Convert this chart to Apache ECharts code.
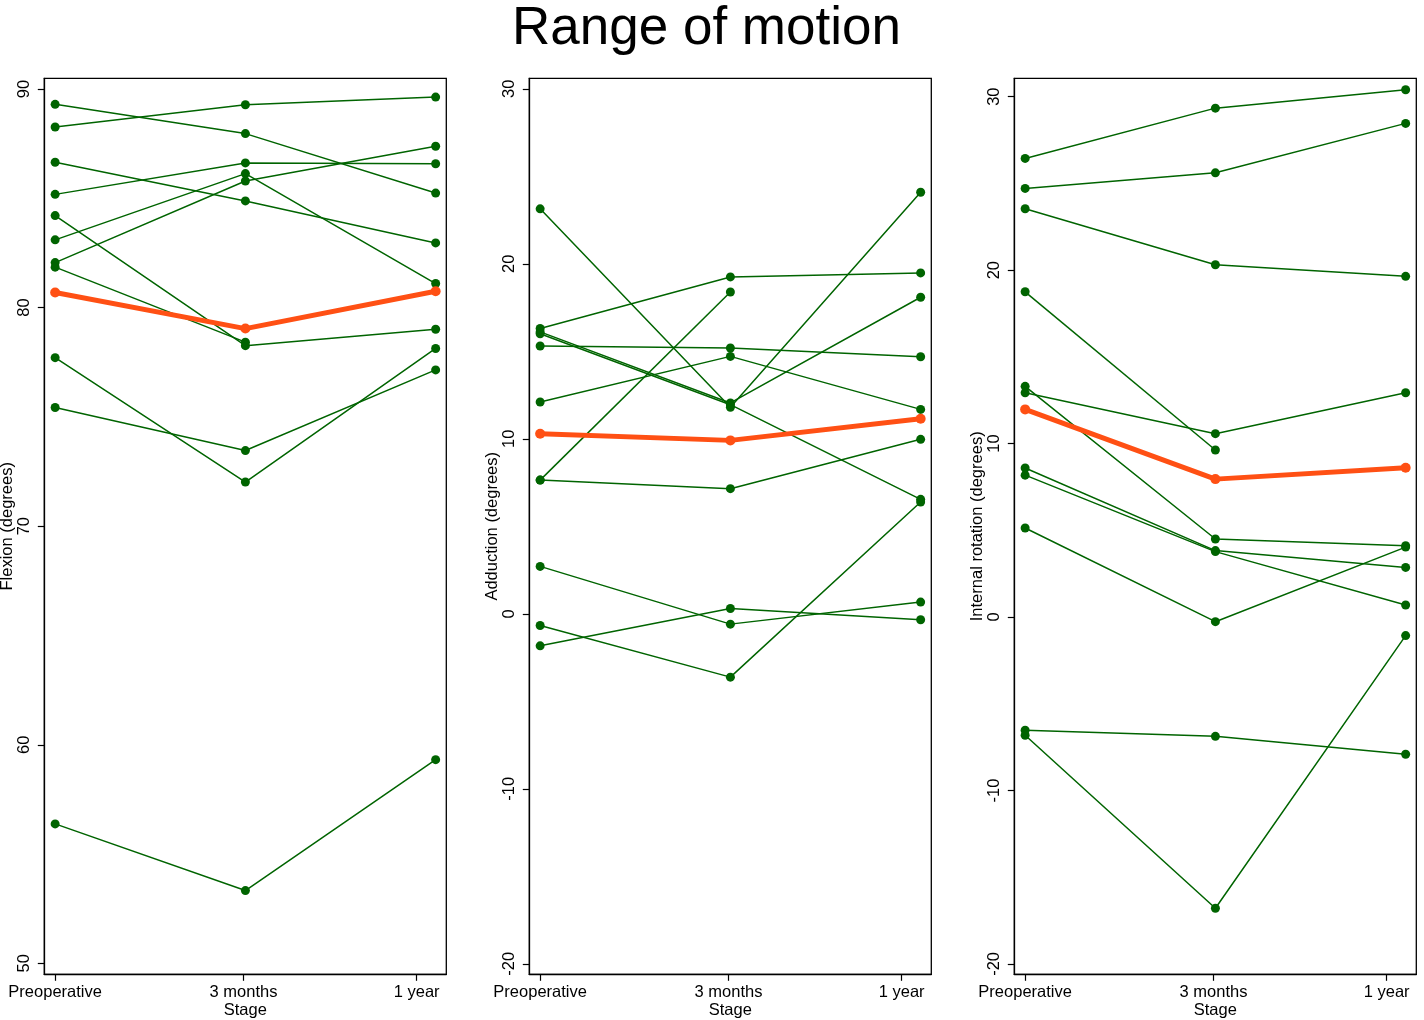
<!DOCTYPE html>
<html>
<head>
<meta charset="utf-8">
<script src="https://cdn.jsdelivr.net/npm/echarts@6/dist/echarts.min.js"></script>
<style>
html,body{margin:0;padding:0;background:#fff;}
#chart{width:1424px;height:1020px;}
</style>
</head>
<body>
<div id="chart"></div>
<script>
// ---- categories / ticks ----
const stages = ['Preoperative', '3 months', '1 year'];
const stagePos = [1, 2, 3];
const stageTickPos = [1, 1.99, 2.9];

// ---- Flexion (degrees): rows = patients, columns = stages ----
const flexionPatients = [
  [89.30, 87.96, 85.24],
  [88.26, 89.28, 89.63],
  [86.65, 84.88, 82.96],
  [85.18, 86.62, 86.58],
  [84.21, 78.26, 79.01],
  [83.10, 86.13, 81.10],
  [82.06, 85.79, 87.38],
  [81.85, 78.42, null],
  [77.71, 72.02, 78.13],
  [75.43, 73.46, 77.15],
  [56.38, 53.33, 59.32]
];
const flexionMean = [80.69, 79.04, 80.75];
const flexionTicks = [50, 60, 70, 80, 90];

// ---- Adduction (degrees) ----
const adductionPatients = [
  [23.14, 11.80, 24.09],
  [16.30, 19.25, 19.48],
  [16.11, 12.05, 18.09],
  [16.00, 11.95, 6.54],
  [15.30, 15.19, 14.69],
  [12.10, 14.71, 11.68],
  [7.64, 18.39, null],
  [7.64, 7.15, 9.97],
  [2.71, -0.59, 0.67],
  [-0.67, -3.62, 6.39],
  [-1.83, 0.30, -0.34]
];
const adductionMean = [10.29, 9.91, 11.15];
const adductionTicks = [-20, -10, 0, 10, 20, 30];

// ---- Internal rotation (degrees) ----
const rotationPatients = [
  [26.44, 29.34, 30.40],
  [24.71, 25.61, 28.46],
  [23.54, 20.31, 19.64],
  [18.75, 9.63, null],
  [13.30, 4.50, 4.11],
  [12.93, 10.57, 12.93],
  [8.59, 3.83, 2.86],
  [8.18, 3.77, 0.69],
  [5.13, -0.27, 4.03],
  [-6.53, -6.88, -7.91],
  [-6.82, -16.79, -1.07]
];
const rotationMean = [11.97, 7.95, 8.61];
const rotationTicks = [-20, -10, 0, 10, 20, 30];

// ---- layout / style ----
const FONT = '"Liberation Sans", Arial, Helvetica, sans-serif';
const GREEN = '#006400';
const ORANGE = '#FF5014';

const panels = [
  {name: 'Flexion (degrees)', pts: flexionPatients, mean: flexionMean, ticks: flexionTicks, min: 49.5, max: 90.49, left: 44.3},
  {name: 'Adduction (degrees)', pts: adductionPatients, mean: adductionMean, ticks: adductionTicks, min: -20.6, max: 30.6, left: 529.3},
  {name: 'Internal rotation (degrees)', pts: rotationPatients, mean: rotationMean, ticks: rotationTicks, min: -20.6, max: 31.06, left: 1014.3}
];

const grids = [], xAxes = [], yAxes = [], series = [];
panels.forEach((p, i) => {
  grids.push({left: p.left, top: 78.3, width: 402, height: 896, show: true,
    borderColor: '#000', borderWidth: 1.3, backgroundColor: 'transparent',
    containLabel: false, outerBoundsMode: 'none'});
  xAxes.push({
    type: 'value', gridIndex: i, min: 0.943, max: 3.056,
    name: 'Stage', nameLocation: 'middle', nameGap: 28, nameMoveOverlap: false,
    nameTextStyle: {fontFamily: FONT, fontSize: 16.5, color: '#000'},
    axisLine: {show: true, onZero: false, lineStyle: {color: '#000', width: 1.3}},
    axisTick: {show: true, length: 6.5, customValues: stageTickPos, lineStyle: {color: '#000', width: 1.2}},
    axisLabel: {customValues: stageTickPos, fontFamily: FONT, fontSize: 16.5, color: '#000', margin: 10,
      formatter: v => { const k = stageTickPos.indexOf(v); return k >= 0 ? stages[k] : ''; }},
    splitLine: {show: false}
  });
  yAxes.push({
    type: 'value', gridIndex: i, min: p.min, max: p.max,
    name: p.name, nameLocation: 'middle', nameGap: 28, nameRotate: 90, nameMoveOverlap: false,
    nameTextStyle: {fontFamily: FONT, fontSize: 16.5, color: '#000'},
    axisLine: {show: true, onZero: false, lineStyle: {color: '#000', width: 1.3}},
    axisTick: {show: true, length: 6.5, customValues: p.ticks, lineStyle: {color: '#000', width: 1.2}},
    axisLabel: {customValues: p.ticks, rotate: 90, fontFamily: FONT, fontSize: 16.5, color: '#000', margin: 11},
    splitLine: {show: false}
  });
  p.pts.forEach(row => {
    const d = [];
    row.forEach((v, j) => { if (v !== null) d.push([stagePos[j], v]); });
    series.push({type: 'line', xAxisIndex: i, yAxisIndex: i, data: d,
      symbol: 'circle', symbolSize: 9, showSymbol: true,
      itemStyle: {color: GREEN}, lineStyle: {color: GREEN, width: 1.5}, silent: true});
  });
  series.push({type: 'line', xAxisIndex: i, yAxisIndex: i, z: 5,
    data: p.mean.map((v, j) => [stagePos[j], v]),
    symbol: 'circle', symbolSize: 10,
    itemStyle: {color: ORANGE}, lineStyle: {color: ORANGE, width: 5}, silent: true});
});

const chart = echarts.init(document.getElementById('chart'), null, {renderer: 'canvas'});
chart.setOption({
  animation: false,
  backgroundColor: '#fff',
  title: {text: 'Range of motion', left: 507, top: -2,
    textStyle: {fontFamily: FONT, fontSize: 53, fontWeight: 'normal', color: '#000'}},
  grid: grids, xAxis: xAxes, yAxis: yAxes, series: series
});
</script>
</body>
</html>
